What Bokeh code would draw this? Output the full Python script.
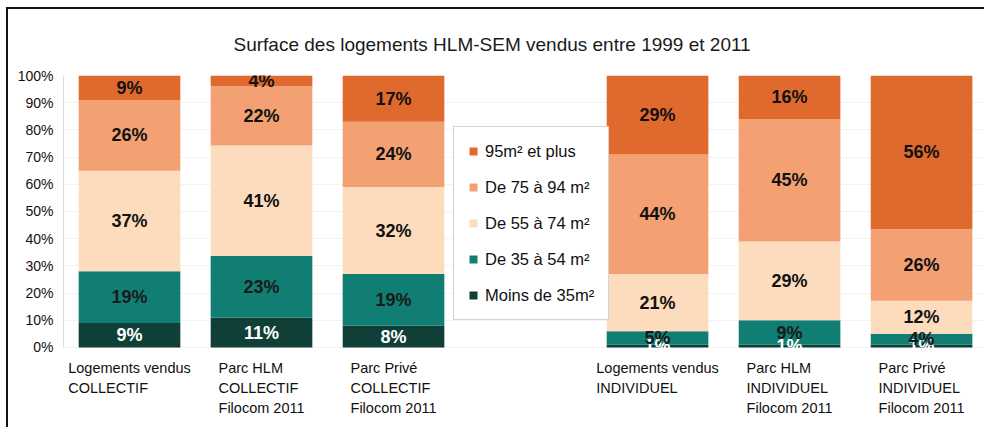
from bokeh.plotting import figure
from bokeh.models import ColumnDataSource, Range1d, Legend, LegendItem, FixedTicker
from bokeh.core.properties import value
from bokeh.embed import file_html
from bokeh.resources import INLINE

# ---------------- data ----------------
categories = [
    "Logements vendus\nCOLLECTIF",
    "Parc HLM\nCOLLECTIF\nFilocom 2011",
    "Parc Privé\nCOLLECTIF\nFilocom 2011",
    "Logements vendus\nINDIVIDUEL",
    "Parc HLM\nINDIVIDUEL\nFilocom 2011",
    "Parc Privé\nINDIVIDUEL\nFilocom 2011",
]
slots = [0, 1, 2, 4, 5, 6]          # slot 3 is left empty (legend)
series = ["Moins de 35m²", "De 35 à 54 m²", "De 55 à 74 m²", "De 75 à 94 m²", "95m² et plus"]
moins_35 = [9, 11, 8, 1, 1, 1]
de_35_54 = [19, 23, 19, 5, 9, 4]
de_55_74 = [37, 41, 32, 21, 29, 12]
de_75_94 = [26, 22, 24, 44, 45, 26]
plus_95 = [9, 4, 17, 29, 16, 56]
colors = ["#0f3f36", "#107e72", "#fcdcbc", "#f3a073", "#e06a2d"]
label_colors = ["#ffffff", "#1a1a1a", "#111111", "#111111", "#111111"]
y_ticks = list(range(0, 101, 10))
y_tick_labels = [f"{t}%" for t in y_ticks]
title = "Surface des logements HLM-SEM vendus entre 1999 et 2011"

FONT = "Liberation Sans"

p = figure(width=978, height=420, output_backend="svg", toolbar_location=None,
           x_axis_location=None, x_range=Range1d(-0.5, 6.492), y_range=Range1d(-30.15, 100),
           min_border_left=55, min_border_right=0, min_border_top=66, min_border_bottom=0,
           styles={"margin-left": "6px", "margin-top": "7px",
                   "border-left": "2px solid #111", "border-top": "2px solid #111"})
p.background_fill_color = "white"
p.border_fill_color = "white"
p.outline_line_color = None

values = [moins_35, de_35_54, de_55_74, de_75_94, plus_95]
totals = [sum(v[i] for v in values) for i in range(len(slots))]

renderers = []
bottoms = [0.0] * len(slots)
lx, ly, lt, lc = [], [], [], []
for k, vals in enumerate(values):
    tops = [bottoms[i] + vals[i] * 100.0 / totals[i] for i in range(len(slots))]
    src = ColumnDataSource(dict(x=slots, bottom=list(bottoms), top=tops))
    r = p.vbar(x="x", bottom="bottom", top="top", width=0.77, source=src,
               fill_color=colors[k], line_color=None)
    renderers.append(r)
    for i in range(len(slots)):
        lx.append(slots[i])
        ly.append((bottoms[i] + tops[i]) / 2)
        lt.append(f"{vals[i]}%")
        lc.append(label_colors[k])
    bottoms = tops

p.text(x=lx, y=ly, text=lt, text_color=lc, text_align="center", text_baseline="middle",
       text_font=value(FONT), text_font_style="bold", text_font_size="18px")

# category labels (block centered, lines left-aligned)
p.text(x=slots, y=[0] * len(slots), text=categories, anchor="top_center", text_align="left",
       y_offset=13, text_font=value(FONT), text_font_size="14.5px", text_color="#111111",
       text_line_height=1.25)

# y axis
ax = p.yaxis[0]
ax.ticker = FixedTicker(ticks=y_ticks)
ax.major_label_overrides = {t: s for t, s in zip(y_ticks, y_tick_labels)}
ax.bounds = (0, 100)
ax.axis_line_color = "#dcdcdc"
ax.major_tick_line_color = None
ax.minor_tick_line_color = None
ax.major_tick_out = 0
ax.major_tick_in = 0
ax.major_label_standoff = 10
ax.major_label_text_font = FONT
ax.major_label_text_font_size = "14px"
ax.major_label_text_color = "#111111"

p.grid.grid_line_color = None
p.ygrid.grid_line_color = "#f3f3f3"
p.ygrid.bounds = (0, 100)

# title
p.title.text = title
p.title.text_font = FONT
p.title.text_font_size = "19px"
p.title.text_font_style = "normal"
p.title.text_color = "#1a1a1a"
p.title.align = "left"
p.title.offset = 170
p.title.standoff = 42

# legend
items = [LegendItem(label=series[k], renderers=[renderers[k]]) for k in range(4, -1, -1)]
legend = Legend(items=items, location=(390, 109), orientation="vertical",
                label_text_font=FONT, label_text_font_size="16.5px", label_text_color="#111111",
                glyph_width=10, glyph_height=10, label_height=20, label_standoff=7,
                spacing=16, padding=14, margin=0,
                border_line_color="#a8a8a8", border_line_width=1,
                background_fill_color="white", background_fill_alpha=1)
p.add_layout(legend, "center")

open("out.html", "w").write(file_html(p, INLINE))
